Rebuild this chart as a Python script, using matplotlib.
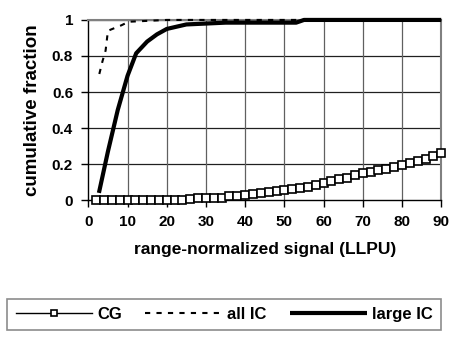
# Cumulative fraction plot
# CG vs. all IC vs. large IC, range-normalized signal

import matplotlib
matplotlib.use("Agg")
import matplotlib.pyplot as plt

# ─── DATA ─────────────────────────────────────────────────────
CG_X = [2, 4, 6, 8, 10, 12, 14, 16, 18, 20, 22, 24, 26, 28, 30, 32, 34, 36,
        38, 40, 42, 44, 46, 48, 50, 52, 54, 56, 58, 60, 62, 64, 66, 68, 70,
        72, 74, 76, 78, 80, 82, 84, 86, 88, 90]
CG_Y = [0, 0, 0, 0, 0, 0, 0, 0, 0, 0, 0, 0, 0.005, 0.01, 0.01, 0.01, 0.012,
        0.02, 0.025, 0.028, 0.032, 0.038, 0.043, 0.05, 0.055, 0.06, 0.067,
        0.075, 0.085, 0.095, 0.105, 0.115, 0.125, 0.138, 0.148, 0.155, 0.165,
        0.175, 0.185, 0.195, 0.205, 0.215, 0.23, 0.245, 0.26]

ALL_IC_X = [2.8, 3.6, 4.4, 5.0, 8.4, 10.3, 20, 30, 40, 50, 60, 70, 80, 90]
ALL_IC_Y = [0.70, 0.77, 0.83, 0.94, 0.97, 0.99, 1, 1, 1, 1, 1, 1, 1, 1]

LARGE_IC_X = [2.7, 5, 7.5, 10, 12.2, 15, 17.5, 20, 25, 30, 35, 40, 45, 50,
              53, 55, 60, 70, 80, 90]
LARGE_IC_Y = [0.04, 0.27, 0.50, 0.69, 0.815, 0.88, 0.92, 0.95, 0.975, 0.98,
              0.985, 0.985, 0.985, 0.985, 0.985, 1, 1, 1, 1, 1]

X_TICKS = [0, 10, 20, 30, 40, 50, 60, 70, 80, 90]
Y_TICKS = [0, 0.2, 0.4, 0.6, 0.8, 1]
Y_TICK_LABELS = ["0", "0.2", "0.4", "0.6", "0.8", "1"]
# ──────────────────────────────────────────────────────────────

plt.rcParams["font.family"] = ["Liberation Sans", "DejaVu Sans"]
plt.rcParams["font.weight"] = "bold"

fig = plt.figure(figsize=(4.53, 3.38), dpi=100)
ax = fig.add_axes([0.195, 0.408, 0.779, 0.533])

# grid: horizontal dark, vertical gray
for y in Y_TICKS[1:]:
    ax.axhline(y, color="#202020", linewidth=0.9, zorder=1)
for x in X_TICKS[1:-1]:
    ax.axvline(x, color="#606060", linewidth=0.9, zorder=1)

ax.plot(CG_X, CG_Y, color="black", linewidth=1.0, marker="s", markersize=6,
        markerfacecolor="white", markeredgecolor="black", markeredgewidth=1.2,
        label="CG", zorder=3, clip_on=False)
ax.plot(ALL_IC_X, ALL_IC_Y, color="black", linewidth=1.5,
        linestyle=(0, (2.5, 3)), label="all IC", zorder=4, clip_on=False)
ax.plot(LARGE_IC_X, LARGE_IC_Y, color="black", linewidth=3.0,
        solid_capstyle="butt", label="large IC", zorder=5, clip_on=False)

ax.set_xlim(0, 90)
ax.set_ylim(0, 1)
ax.set_xticks(X_TICKS)
ax.set_yticks(Y_TICKS)
ax.set_yticklabels(Y_TICK_LABELS)
ax.tick_params(axis="both", direction="out", length=5, width=1, labelsize=11,
               pad=6, colors="black")

for s in ["left", "bottom"]:
    ax.spines[s].set_color("black")
    ax.spines[s].set_linewidth(1.0)
for s in ["top", "right"]:
    ax.spines[s].set_color("#808080")
    ax.spines[s].set_linewidth(1.5)

ax.set_xlabel("range-normalized signal (LLPU)", fontsize=12.5,
              fontweight="bold", labelpad=9)
ax.set_ylabel("cumulative fraction", fontsize=13.5, fontweight="heavy",
              labelpad=8)

leg = fig.legend(loc="center", bbox_to_anchor=(0.4945, 0.0695), ncol=3,
                 fontsize=12, handlelength=4.6, handletextpad=0.3,
                 columnspacing=1.4, frameon=True, fancybox=False,
                 borderpad=0.5, borderaxespad=0)
leg.get_frame().set_edgecolor("#707070")
leg.get_frame().set_linewidth(1.2)
for h in leg.get_lines():
    if h.get_marker() == "s":
        h.set_markersize(5)

fig.savefig("out.png", dpi=100)
